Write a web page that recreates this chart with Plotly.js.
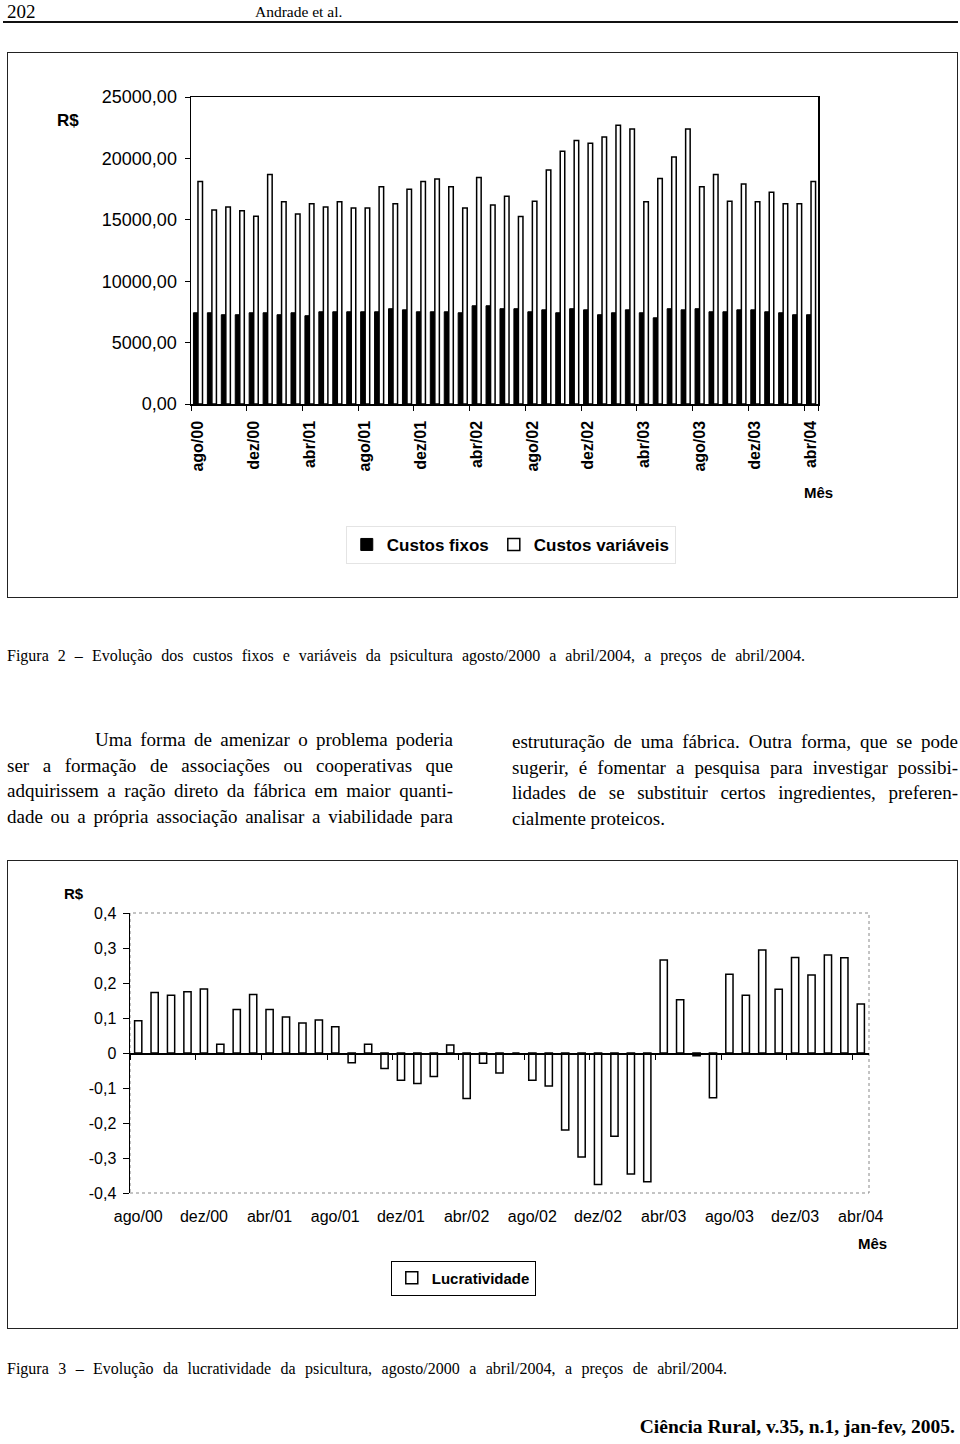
<!DOCTYPE html>
<html>
<head>
<meta charset="utf-8">
<script src="https://cdn.plot.ly/plotly-3.0.1.min.js"></script>
<style>
  html, body { margin:0; padding:0; background:#fff; }
  #page { position:relative; width:960px; height:1444px; overflow:hidden; background:#fff; }
  .t { position:absolute; white-space:nowrap; line-height:1.15; color:#000; font-family:"Liberation Serif","Times New Roman",serif; }
  .j { text-align:justify; text-align-last:justify; }
  .box { position:absolute; border:1px solid #222; box-sizing:border-box; pointer-events:none; }
  .plot { position:absolute; }
</style>
</head>
<body>
<div id="page">
  <div class="t" style="left:7px; top:1px; font-size:19px;">202</div>
  <div class="t" style="left:255px; top:3px; font-size:15.5px;">Andrade et al.</div>
  <div style="position:absolute; left:3px; top:21px; width:955px; height:1.5px; background:#111;"></div>

  <div id="fig2" class="plot" style="left:7px; top:52px; width:951px; height:545px;"></div>
  <div class="box" style="left:7px; top:52px; width:951px; height:546px;"></div>

  <div class="t j" style="left:7px; top:647px; width:798px; font-size:16px;">Figura 2 – Evolução dos custos fixos e variáveis da psicultura agosto/2000 a abril/2004, a preços de abril/2004.</div>

  <div class="t j" style="left:95px; top:729px; width:358px; font-size:19px;">Uma forma de amenizar o problema poderia</div>
  <div class="t j" style="left:7px; top:754.5px; width:446px; font-size:19px;">ser a formação de associações ou cooperativas que</div>
  <div class="t j" style="left:7px; top:780px; width:446px; font-size:19px;">adquirissem a ração direto da fábrica em maior quanti-</div>
  <div class="t j" style="left:7px; top:805.5px; width:446px; font-size:19px;">dade ou a própria associação analisar a viabilidade para</div>

  <div class="t j" style="left:512px; top:731px; width:446px; font-size:19px;">estruturação de uma fábrica. Outra forma, que se pode</div>
  <div class="t j" style="left:512px; top:756.5px; width:446px; font-size:19px;">sugerir, é fomentar a pesquisa para investigar possibi-</div>
  <div class="t j" style="left:512px; top:782px; width:446px; font-size:19px;">lidades de se substituir certos ingredientes, preferen-</div>
  <div class="t" style="left:512px; top:807.5px; font-size:19px;">cialmente proteicos.</div>

  <div id="fig3" class="plot" style="left:7px; top:860px; width:951px; height:468px;"></div>
  <div class="box" style="left:7px; top:860px; width:951px; height:469px;"></div>

  <div class="t j" style="left:7px; top:1360px; width:720px; font-size:16px;">Figura 3 – Evolução da lucratividade da psicultura, agosto/2000 a abril/2004, a preços de abril/2004.</div>

  <div class="t" style="right:5px; top:1416px; font-size:19.5px; font-weight:bold;">Ciência Rural, v.35, n.1, jan-fev, 2005.</div>
</div>

<script>
// ---- Data ----
var months = [
  'ago/00','set/00','out/00','nov/00','dez/00',
  'jan/01','fev/01','mar/01','abr/01','mai/01','jun/01','jul/01','ago/01','set/01','out/01','nov/01','dez/01',
  'jan/02','fev/02','mar/02','abr/02','mai/02','jun/02','jul/02','ago/02','set/02','out/02','nov/02','dez/02',
  'jan/03','fev/03','mar/03','abr/03','mai/03','jun/03','jul/03','ago/03','set/03','out/03','nov/03','dez/03',
  'jan/04','fev/04','mar/04','abr/04'
];
var tickLabels = ['ago/00','dez/00','abr/01','ago/01','dez/01','abr/02','ago/02','dez/02','abr/03','ago/03','dez/03','abr/04'];

var custosFixos = [7430,7430,7270,7270,7430,7430,7270,7430,7190,7510,
                   7510,7510,7510,7510,7760,7670,7510,7510,7510,7430,
                   8000,8000,7760,7760,7510,7670,7430,7760,7670,7270,
                   7430,7670,7430,7020,7760,7670,7760,7510,7510,7670,
                   7670,7510,7430,7270,7270];
var custosVariaveis = [18110,15800,16050,15730,15290,18680,16460,15480,16300,16050,
                       16460,15970,15970,17700,16300,17490,18110,18330,17700,15970,
                       18440,16200,16920,15270,16510,19060,20580,21450,21230,21750,
                       22700,22400,16460,18360,20120,22400,17700,18680,16510,17920,
                       16460,17250,16300,16300,18110];
var lucratividade = [0.092,0.173,0.165,0.175,0.183,0.025,0.124,0.167,0.124,0.103,
                     0.086,0.094,0.075,-0.028,0.025,-0.044,-0.078,-0.087,-0.067,0.023,
                     -0.13,-0.029,-0.057,0,-0.078,-0.094,-0.22,-0.297,-0.376,-0.238,
                     -0.346,-0.368,0.266,0.152,-0.008,-0.128,0.225,0.165,0.294,0.182,
                     0.273,0.223,0.28,0.272,0.14];
var lucroTickVals = [0.4,0.3,0.2,0.1,0,-0.1,-0.2,-0.3,-0.4];
var lucroTickText = ['0,4','0,3','0,2','0,1','0','-0,1','-0,2','-0,3','-0,4'];

var SANS = 'Liberation Sans, Arial, sans-serif';
var cfg = {staticPlot:true, displayModeBar:false};

// ---- Figure 2 ----
var fig2Data = [
  {type:'bar', name:'Custos fixos', x:months, y:custosFixos,
   marker:{color:'#000', line:{color:'#000', width:1}}},
  {type:'bar', name:'Custos variáveis', x:months, y:custosVariaveis,
   marker:{color:'#fff', line:{color:'#000', width:1.5}}}
];
var fig2Layout = {
  width:951, height:545,
  margin:{l:184, r:140, t:45, b:193, pad:0},
  paper_bgcolor:'rgba(0,0,0,0)', plot_bgcolor:'#fff',
  separators:',.',
  barmode:'group', bargap:0.35, bargroupgap:0,
  font:{family:SANS, color:'#000'},
  xaxis:{type:'category', categoryorder:'array', categoryarray:months, range:[-0.5,44.5],
         tickmode:'array', tickvals:tickLabels, ticktext:tickLabels, tickson:'boundaries',
         ticks:'outside', ticklen:5, tickwidth:1, tickcolor:'#000', tickangle:-90, ticklabelstandoff:9,
         tickfont:{family:SANS, size:16, weight:'bold', color:'#000'},
         showline:true, linecolor:'#000', linewidth:1.5, mirror:true, showgrid:false},
  yaxis:{range:[0,25000], dtick:5000, tickformat:'.2f', ticks:'outside', ticklen:5, tickcolor:'#000',
         tickfont:{family:SANS, size:18, color:'#000'}, ticklabelstandoff:4,
         showline:true, linecolor:'#000', linewidth:1.5, mirror:true, showgrid:false, zeroline:false},
  showlegend:true,
  legend:{orientation:'h', x:0.51, xanchor:'center', y:-0.459, yanchor:'middle',
          font:{family:SANS, size:17, weight:'bold', color:'#000'},
          bordercolor:'#e4e4e4', borderwidth:1, bgcolor:'#fff', itemwidth:30, tracegroupgap:0},
  annotations:[
    {text:'R$', xref:'paper', yref:'paper', x:-0.196, y:0.922, xanchor:'center', yanchor:'middle',
     showarrow:false, font:{family:SANS, size:17, weight:'bold', color:'#000'}},
    {text:'Mês', xref:'paper', yref:'paper', x:1.0, y:-0.287, xanchor:'center', yanchor:'middle',
     showarrow:false, font:{family:SANS, size:15, weight:'bold', color:'#000'}}
  ]
};
Plotly.newPlot('fig2', fig2Data, fig2Layout, cfg);

// ---- Figure 3 ----
var boundaryTicks = tickLabels.map(function(l){ return months.indexOf(l) - 0.5; });
var fig3Data = [
  {type:'bar', name:'Lucratividade', x:months, y:lucratividade,
   marker:{color:'#fff', line:{color:'#000', width:1.5}}},
  {type:'scatter', x:[], y:[], xaxis:'x2', yaxis:'y', showlegend:false, hoverinfo:'skip'}
];
var fig3Layout = {
  width:951, height:468,
  margin:{l:122.5, r:89, t:53, b:135, pad:0},
  paper_bgcolor:'rgba(0,0,0,0)', plot_bgcolor:'#fff',
  bargap:0.56,
  font:{family:SANS, color:'#000'},
  xaxis:{type:'category', categoryorder:'array', categoryarray:months, range:[-0.5,44.5],
         tickmode:'array', tickvals:tickLabels, ticktext:tickLabels,
         ticks:'outside', ticklen:9, tickcolor:'rgba(0,0,0,0)', tickangle:0,
         tickfont:{family:SANS, size:16, color:'#000'},
         showline:false, showgrid:false, zeroline:false},
  xaxis2:{type:'linear', overlaying:'x', anchor:'free', position:0.5, range:[-0.5,44.5],
          tickmode:'array', tickvals:boundaryTicks, ticks:'outside', ticklen:5, tickwidth:1, tickcolor:'#000',
          showticklabels:false, showline:true, linecolor:'#000', linewidth:1.5, showgrid:false, zeroline:false},
  yaxis:{range:[-0.4,0.4], tickmode:'array', tickvals:lucroTickVals, ticktext:lucroTickText,
         ticks:'outside', ticklen:6, tickcolor:'#000', ticklabelstandoff:3,
         tickfont:{family:SANS, size:16, color:'#000'},
         showline:true, linecolor:'#000', linewidth:1.5, showgrid:false, zeroline:false},
  shapes:[{type:'rect', xref:'paper', yref:'paper', x0:0, x1:1, y0:0, y1:1, layer:'below',
           line:{color:'#888', width:1, dash:'dot'}}],
  showlegend:true,
  legend:{orientation:'h', x:0.451, xanchor:'center', y:-0.304, yanchor:'middle',
          font:{family:SANS, size:15, weight:'bold', color:'#000'},
          bordercolor:'#000', borderwidth:1, bgcolor:'#fff', itemwidth:30},
  annotations:[
    {text:'R$', xref:'paper', yref:'paper', x:-0.0764, y:1.071, xanchor:'center', yanchor:'middle',
     showarrow:false, font:{family:SANS, size:15, weight:'bold', color:'#000'}},
    {text:'Mês', xref:'paper', yref:'paper', x:1.005, y:-0.179, xanchor:'center', yanchor:'middle',
     showarrow:false, font:{family:SANS, size:15, weight:'bold', color:'#000'}}
  ]
};
Plotly.newPlot('fig3', fig3Data, fig3Layout, cfg);
</script>
</body>
</html>
